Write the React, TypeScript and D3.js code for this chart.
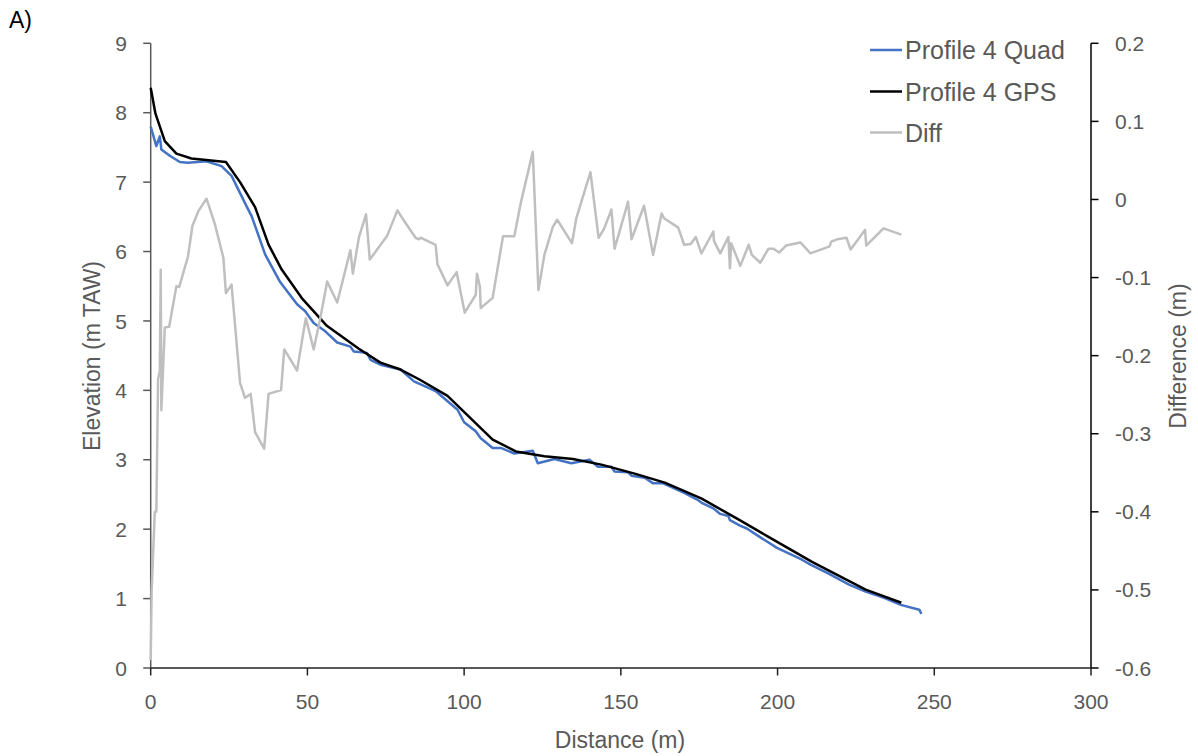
import React from 'react';
import * as d3 from 'd3';

// ---- Data ----
const xTickValues = [0, 50, 100, 150, 200, 250, 300];
const leftTickValues = [0, 1, 2, 3, 4, 5, 6, 7, 8, 9];
const rightTickValues = [-0.6, -0.5, -0.4, -0.3, -0.2, -0.1, 0, 0.1, 0.2];
const rightTickLabels = ['-0.6', '-0.5', '-0.4', '-0.3', '-0.2', '-0.1', '0', '0.1', '0.2'];

const quadDist = [0, 1.8, 2.9, 3.4, 6.1, 9.3, 11.9, 17.8, 22.6, 25.8, 30.6, 32.2, 36.5, 41.3, 46.7, 49.3, 52, 55.7, 59.5, 63.7, 64.8, 69, 70.1, 73.3, 79.7, 84, 90.9, 97.9, 100, 103.7, 105.3, 109.1, 111.7, 116, 121.9, 123.5, 128.8, 134.2, 140, 142.7, 147, 148, 152.3, 153.4, 157.6, 160.3, 163.5, 170.4, 174.2, 175.8, 179.5, 181.7, 184.3, 184.8, 188, 190.2, 193.9, 199.8, 207.8, 210.5, 216.3, 222.8, 228.1, 234, 239.3, 245.2, 245.9];
const quadElev = [7.80, 7.52, 7.66, 7.47, 7.38, 7.29, 7.28, 7.30, 7.23, 7.09, 6.65, 6.51, 5.96, 5.56, 5.24, 5.14, 4.97, 4.85, 4.69, 4.63, 4.56, 4.54, 4.44, 4.37, 4.30, 4.13, 3.99, 3.72, 3.54, 3.41, 3.31, 3.17, 3.17, 3.09, 3.13, 2.95, 3.01, 2.95, 3.00, 2.90, 2.90, 2.83, 2.82, 2.77, 2.74, 2.66, 2.66, 2.52, 2.43, 2.38, 2.30, 2.22, 2.19, 2.13, 2.05, 2.01, 1.90, 1.73, 1.56, 1.49, 1.36, 1.20, 1.10, 1.01, 0.91, 0.84, 0.78];

const gpsDist = [0, 1.5, 4.5, 8.2, 13, 24, 28.5, 33.3, 37.6, 41.8, 48.2, 56.2, 66.4, 73.3, 79.7, 85.6, 94.7, 109.1, 116.5, 125.6, 134.7, 143.8, 154.4, 164, 175.8, 187.5, 197.1, 211, 228.1, 239.5];
const gpsElev = [8.36, 7.99, 7.59, 7.41, 7.34, 7.29, 7.0, 6.64, 6.10, 5.74, 5.33, 4.93, 4.60, 4.40, 4.30, 4.16, 3.92, 3.29, 3.12, 3.05, 3.01, 2.93, 2.80, 2.67, 2.44, 2.14, 1.89, 1.53, 1.13, 0.94];

const diffDist = [0, 0.3, 1.3, 1.8, 2.35, 2.9, 3.2, 3.4, 4.5, 5.9, 8.2, 9.1, 11.9, 13.3, 15.2, 17.8, 20.5, 23.2, 24, 25.8, 28.5, 30.1, 31.9, 33.3, 36.2, 37.6, 41.6, 42.6, 46.7, 48.6, 49.5, 52, 54.1, 56.3, 59.5, 63.7, 64.5, 66.4, 68.7, 69.9, 75.5, 78.7, 80.3, 84.5, 85.6, 86.1, 90.9, 91.5, 94.7, 97.6, 100.2, 103.7, 104.1, 105, 105.3, 109.1, 112.4, 116, 118.2, 121.9, 123.7, 125.6, 128.3, 129.7, 134.4, 135.8, 140.3, 142.9, 144.6, 147, 148, 152.3, 153.4, 157.4, 160.3, 163, 163.8, 168.3, 170.2, 172.3, 173.9, 175.7, 179.5, 179.7, 181.7, 184.3, 184.8, 185.2, 188.1, 190.8, 191.8, 194.5, 197.1, 198.7, 200.5, 202.7, 207.3, 210.5, 216.6, 217.1, 219, 222, 223.3, 227.9, 228.3, 233.8, 239.5];
const diffValue = [-0.59, -0.50, -0.40, -0.40, -0.23, -0.22, -0.09, -0.27, -0.164, -0.163, -0.111, -0.112, -0.073, -0.034, -0.015, 0.001, -0.032, -0.075, -0.12, -0.109, -0.235, -0.254, -0.249, -0.298, -0.319, -0.249, -0.244, -0.192, -0.219, -0.173, -0.152, -0.192, -0.152, -0.105, -0.132, -0.065, -0.095, -0.049, -0.019, -0.077, -0.046, -0.014, -0.024, -0.049, -0.051, -0.049, -0.058, -0.083, -0.110, -0.093, -0.145, -0.122, -0.095, -0.111, -0.139, -0.126, -0.047, -0.047, -0.002, 0.061, -0.116, -0.071, -0.035, -0.026, -0.056, -0.024, 0.035, -0.049, -0.038, -0.013, -0.063, -0.003, -0.051, -0.008, -0.071, -0.018, -0.024, -0.036, -0.058, -0.057, -0.048, -0.069, -0.041, -0.053, -0.069, -0.048, -0.088, -0.056, -0.085, -0.058, -0.071, -0.081, -0.063, -0.063, -0.068, -0.059, -0.055, -0.069, -0.060, -0.054, -0.051, -0.049, -0.064, -0.039, -0.059, -0.037, -0.045];

const seriesNames = ['Profile 4 Quad', 'Profile 4 GPS', 'Diff'];
const seriesColors = ['#4472C4', '#000000', '#BFBFBF'];

const FONT = '"Liberation Sans", Arial, sans-serif';
const GRAY = '#595959';

export default function App() {
  const W = 1198;
  const H = 756;
  const left = 150.7, right = 1091, top = 43.3, bottom = 668;

  const x = d3.scaleLinear().domain([0, 300]).range([left, right]);
  const yL = d3.scaleLinear().domain([0, 9]).range([bottom, top]);
  const yR = d3.scaleLinear().domain([-0.6, 0.2]).range([bottom, top]);

  const mk = (xs: number[], ys: number[], yScale: (v: number) => number) =>
    d3.line<[number, number]>().x(d => x(d[0])).y(d => yScale(d[1]))(xs.map((v, i) => [v, ys[i]] as [number, number])) || '';

  const quadPath = mk(quadDist, quadElev, yL);
  const gpsPath = mk(gpsDist, gpsElev, yL);
  const diffPath = mk(diffDist, diffValue, yR);

  const legendY = [50, 91.5, 132.5];

  return (
    <svg width={W} height={H} style={{ position: 'absolute', left: 0, top: 0, background: '#fff' }}>
      <rect x={0} y={0} width={W} height={H} fill="#fff" />
      <text x={9} y={28} fontFamily={FONT} fontSize={23} fill="#000">A)</text>

      {/* axes */}
      <line x1={left} y1={top} x2={left} y2={bottom} stroke={GRAY} strokeWidth={1.5} />
      <line x1={right} y1={top} x2={right} y2={bottom} stroke="#000" strokeWidth={1.5} />
      <line x1={left} y1={bottom} x2={right} y2={bottom} stroke="#222" strokeWidth={1.5} />

      {leftTickValues.map(v => (
        <g key={'l' + v}>
          <line x1={left - 7.5} x2={left} y1={yL(v)} y2={yL(v)} stroke={GRAY} strokeWidth={1.5} />
          <text x={127} y={yL(v)} dy="0.36em" textAnchor="end" fontFamily={FONT} fontSize={21} fill={GRAY}>{v}</text>
        </g>
      ))}
      {rightTickValues.map((v, i) => (
        <g key={'r' + v}>
          <line x1={right} x2={right + 7.5} y1={yR(v)} y2={yR(v)} stroke="#000" strokeWidth={1.5} />
          <text x={1115} y={yR(v)} dy="0.36em" textAnchor="start" fontFamily={FONT} fontSize={21} fill={GRAY}>{rightTickLabels[i]}</text>
        </g>
      ))}
      {xTickValues.map(v => (
        <g key={'x' + v}>
          <line x1={x(v)} x2={x(v)} y1={bottom} y2={bottom + 7.5} stroke="#222" strokeWidth={1.5} />
          <text x={x(v)} y={709} textAnchor="middle" fontFamily={FONT} fontSize={21} fill={GRAY}>{v}</text>
        </g>
      ))}

      {/* axis titles */}
      <text transform={`translate(100,356) rotate(-90)`} textAnchor="middle" fontFamily={FONT} fontSize={23} fill={GRAY}>Elevation (m TAW)</text>
      <text transform={`translate(1186,356) rotate(-90)`} textAnchor="middle" fontFamily={FONT} fontSize={23} fill={GRAY}>Difference (m)</text>
      <text x={620} y={748} textAnchor="middle" fontFamily={FONT} fontSize={23} fill={GRAY}>Distance (m)</text>

      {/* series */}
      <path d={quadPath} fill="none" stroke={seriesColors[0]} strokeWidth={2.5} strokeLinejoin="round" />
      <path d={gpsPath} fill="none" stroke={seriesColors[1]} strokeWidth={2.5} strokeLinejoin="round" />
      <path d={diffPath} fill="none" stroke={seriesColors[2]} strokeWidth={2.5} strokeLinejoin="round" />

      {/* legend */}
      {seriesNames.map((n, i) => (
        <g key={n}>
          <line x1={870} x2={902} y1={legendY[i]} y2={legendY[i]} stroke={seriesColors[i]} strokeWidth={2.5} />
          <text x={905} y={legendY[i]} dy="0.36em" fontFamily={FONT} fontSize={25} fill={GRAY}>{n}</text>
        </g>
      ))}
    </svg>
  );
}
